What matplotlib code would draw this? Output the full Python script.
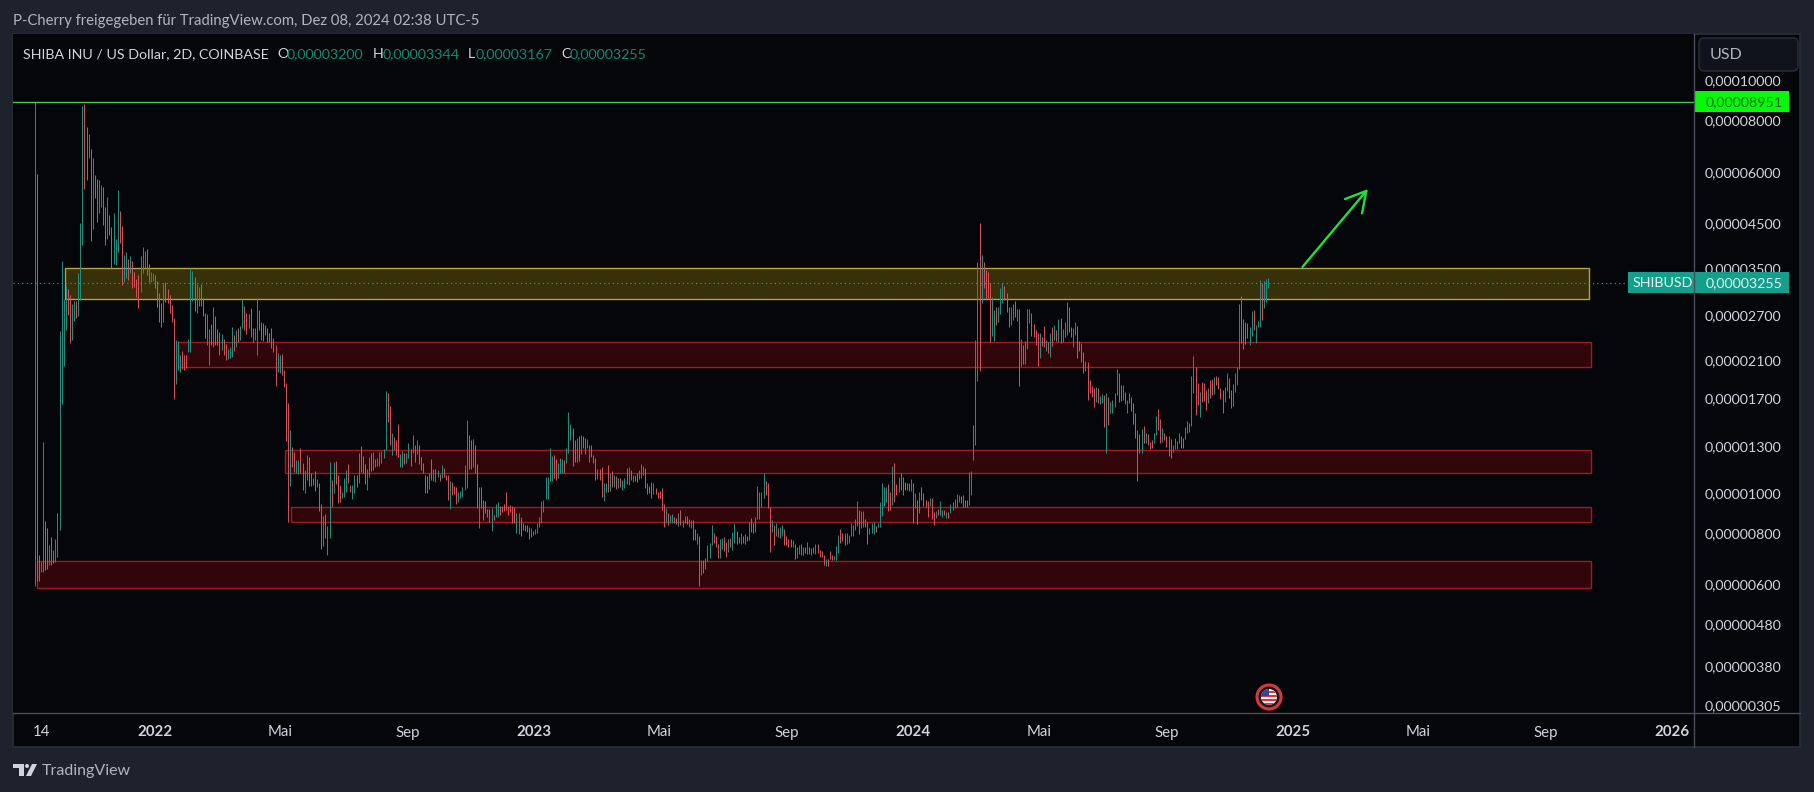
import matplotlib
matplotlib.use("Agg")
import matplotlib.pyplot as plt
import matplotlib.dates as mdates
from matplotlib.patches import Rectangle, FancyBboxPatch, Circle, Polygon
from matplotlib.transforms import ScaledTranslation
import numpy as np
import pandas as pd

plt.rcParams['font.family'] = ['Lato', 'DejaVu Sans']

# 2D bars, prices in units of 0.00000001
high = np.array([
    8951,5977,714,685,1340,861,829,754,788,732,
    779,901,2490,3681,2977,3201,3148,3044,2895,2944,
    2944,3442,4549,8747,8845,7780,7480,6878,6540,5950,
    5818,5785,5622,5560,4975,5260,4760,4450,4810,4160,
    5472,4865,4475,3805,3870,3723,3785,3681,3461,3328,
    3404,3785,3980,3893,3935,3620,3461,3442,3404,3291,
    3078,2912,3255,3273,3148,3044,2879,2679,2368,2355,
    2178,2227,2178,2178,2381,3540,3481,3366,3237,3183,
    3237,2994,2754,2739,2520,2591,2848,2709,2520,2477,
    2449,2381,2316,2252,2278,2548,2435,2504,2534,2562,
    2977,2864,2754,2739,2832,2534,2534,2994,2800,2620,
    2605,2576,2534,2463,2534,2395,2303,2203,2178,2190,
    2003,1863,1666,1433,1303,1267,1211,1211,1296,1191,
    1145,1246,1232,1127,1096,1139,1090,1065,948,886,
    896,838,1198,1083,1198,1205,1114,1053,1013,1096,
    1145,1185,1053,1053,1114,1114,1260,1311,1239,1185,
    1152,1232,1260,1267,1218,1225,1267,1274,1289,1781,
    1762,1638,1409,1378,1355,1482,1253,1274,1260,1260,
    1333,1289,1394,1318,1355,1318,1232,1191,1114,1108,
    1127,1218,1152,1152,1145,1120,1178,1159,1114,1114,
    1077,1071,1048,1042,1013,1019,1042,1178,1515,1394,
    1355,1363,1318,1185,1042,1042,969,964,922,922,
    927,891,948,958,937,937,948,1013,937,942,
    937,932,901,901,881,852,843,843,833,829,
    815,824,852,881,964,969,1102,1102,1296,1239,
    1246,1218,1191,1225,1218,1211,1296,1584,1482,1449,
    1355,1371,1386,1394,1386,1371,1363,1318,1318,1246,
    1225,1152,1152,1165,1065,1065,1178,1127,1139,1114,
    1108,1096,1096,1083,1096,1159,1165,1145,1114,1114,
    1127,1145,1185,1172,1159,1065,1048,1071,1065,1036,
    1013,1019,1036,948,927,901,891,896,881,876,
    901,916,866,886,886,871,866,866,824,806,
    793,693,693,701,754,762,843,806,793,758,
    779,784,788,766,779,784,810,852,815,788,
    806,793,801,793,857,876,852,881,1048,1013,
    1013,1127,1077,1065,932,866,843,852,829,833,
    843,824,793,779,779,775,758,746,754,758,
    746,746,766,746,741,746,758,758,732,729,
    713,697,697,729,713,709,750,797,824,806,
    806,806,797,852,843,871,964,916,911,911,
    871,857,829,852,857,838,852,958,1065,1042,
    1042,1059,1013,1172,1191,1059,1102,1127,1102,1071,
    1065,1065,1090,1065,1007,969,1013,1042,1007,969,
    964,980,980,906,911,922,964,916,916,906,
    906,948,958,974,1002,996,991,996,969,969,
    1133,1139,1474,2368,3661,4549,3805,3661,3500,3461,
    3255,3010,2800,2848,2848,3165,3255,3201,3078,2848,
    2848,2895,2944,2816,2816,2381,2303,2355,2816,2816,
    2754,2591,2504,2463,2463,2408,2562,2368,2342,2463,
    2548,2576,2504,2664,2679,2520,2620,2928,2848,2548,
    2534,2620,2562,2355,2329,2215,2106,2095,1894,1832,
    1812,1822,1812,1732,1752,1742,1762,1723,1675,1694,
    1762,2014,1970,1842,1842,1771,1694,1762,1723,1666,
    1576,1433,1401,1441,1466,1409,1401,1340,1355,1409,
    1549,1611,1524,1449,1409,1386,1386,1363,1318,1371,
    1348,1409,1386,1371,1458,1507,1490,1937,2166,2037,
    1863,1771,1873,1863,1791,1812,1894,1905,1926,1937,
    1926,1812,1791,1822,1970,1915,1791,1852,1970,2037,
    2895,3027,2664,2620,2605,2548,2785,2800,2576,2634,
    3310,3255,3291,3328,3344,
]) * 1e-8

low = np.array([
    600,617,617,648,648,655,659,674,674,681,
    685,705,819,1657,2048,2504,2724,2329,2368,2634,
    2679,2709,2960,4025,5500,5785,6540,4115,4400,5230,
    4575,4810,4975,4500,4025,4160,4255,3540,3620,3600,
    3870,4068,3219,3273,3347,3310,3442,3165,3183,3010,
    2832,3095,3442,3540,3404,3273,3273,3291,3165,2848,
    2620,2548,2620,2928,2912,2754,2620,1703,1852,2003,
    1981,2014,2003,2025,2215,2215,2944,2785,2754,2864,
    2864,2709,2395,2303,2060,2303,2278,2303,2303,2178,
    2239,2178,2118,2130,2142,2154,2227,2278,2342,2368,
    2534,2504,2449,2534,2408,2342,2368,2178,2504,2368,
    2355,2435,2342,2342,2265,2215,1832,1981,1970,1948,
    1822,1348,857,1048,1165,1133,1127,1120,1127,1024,
    1007,1083,1048,1048,1053,1019,1042,911,737,750,
    784,713,784,932,1007,1059,953,958,980,985,
    1013,1065,1013,974,1007,1042,1065,1133,1127,1059,
    1024,1102,1139,1145,1165,1172,1172,1191,1225,1281,
    1498,1318,1246,1281,1246,1232,1165,1165,1185,1191,
    1225,1172,1260,1198,1253,1185,1145,1127,1007,1007,
    1030,1083,1077,1071,1102,1077,1096,1102,1083,969,
    922,996,1002,948,958,980,985,1024,1036,1152,
    1152,1165,1127,927,829,927,866,901,881,857,
    815,866,881,881,891,906,911,916,891,906,
    852,852,806,801,793,819,815,810,779,788,
    797,801,806,833,852,906,974,974,1077,1077,
    1096,1083,1096,1127,1127,1127,1191,1260,1355,1172,
    1198,1198,1205,1253,1296,1253,1296,1198,1232,1191,
    1083,1090,1083,985,964,1013,1013,1019,1042,1042,
    1030,1036,1042,1024,1036,1059,1053,1083,1071,1077,
    1071,1090,1096,1114,1036,1002,1007,980,1002,1002,
    980,980,916,833,852,843,852,852,852,847,
    838,843,833,852,847,833,829,775,775,758,
    600,637,644,659,689,701,754,762,746,701,
    701,737,729,705,725,746,732,762,758,762,
    758,762,758,771,775,810,806,810,871,871,
    932,980,996,927,725,810,754,793,788,784,
    793,754,754,746,746,746,697,701,717,713,
    713,721,717,717,713,721,717,721,705,705,
    674,670,670,697,693,693,693,721,762,771,
    754,758,762,793,793,819,838,801,829,833,
    833,758,801,806,801,810,833,833,886,937,
    958,911,916,942,958,996,1013,1024,996,1024,
    1024,1019,1019,852,927,847,901,969,937,932,
    881,937,871,843,876,891,891,881,891,876,
    876,901,916,927,932,958,953,932,932,932,
    942,996,1211,1318,1884,1992,2912,3165,2994,2994,
    2342,2422,2355,2576,2620,2739,2912,2960,2769,2548,
    2576,2648,2694,2634,1832,2048,2071,2071,2252,2605,
    2422,2408,2303,2048,2142,2290,2278,2227,2203,2154,
    2290,2368,2355,2342,2329,2342,2408,2435,2477,2408,
    2278,2435,2142,2227,2095,1970,1992,1694,1762,1723,
    1629,1675,1666,1657,1666,1458,1260,1474,1576,1576,
    1629,1742,1675,1685,1694,1657,1576,1666,1593,1482,
    1371,1077,1260,1260,1333,1333,1318,1289,1296,1333,
    1394,1433,1333,1340,1355,1303,1239,1225,1267,1289,
    1289,1333,1296,1296,1363,1409,1417,1466,1762,1558,
    1648,1541,1675,1685,1602,1666,1713,1742,1752,1842,
    1802,1703,1576,1675,1781,1713,1620,1638,1771,1842,
    2014,2329,2252,2316,2395,2303,2422,2504,2329,2548,
    2548,2648,2832,2928,3167,
]) * 1e-8

# G = closed up, R = closed down
direction = (
    "GRRGGRRGRR" "GGGGGGRRGG" "RGGGRRGRGR" "RGGRRGRRGG" "GRRGGRGRRR"
    "RGGGRRGGRR" "RRGRRRRRGG" "GRRRGGGRGG" "RRRGGRGRRR" "GRRGGGRGRG"
    "GRRGRRGGRR" "RRRRRRRGGR" "RRRGRRGGRR" "GGRRGRGRRG" "RGGRGRRRGG"
    "GRRGGRGRRR" "GGRGGGGGGG" "RRGRRRGGRG" "GRGRGRRRRR" "GRGGGRGRRR"
    "GRRRGGGGGR" "RGRRGRRRRR" "GRGGRRRRRR" "RRGGRRRRRG" "GGGGGGGGGG"
    "RRGGGRGGGR" "RGRGRRGGRR" "RGRRGGRGRG" "RGRGGRGRGR" "RGGGRRRRGR"
    "RRRRGRGGRR" "GRGRRGGRRG" "RGRGGGGRRR" "GGRRGRGGRR" "GRGRGRRGGG"
    "GGRRRGRGRG" "GRRRRGRGGR" "GRGRGRGRRR" "RGRRRGGGRR" "RGGGGGGRGG"
    "RRGGGRGGGG" "GRRGRRGRRR" "RRGRGRGRRR" "RGRRGRGGRG" "RGGGGGRRRR"
    "GGGGGRGRRR" "RGGRGGGRRR" "GGRGRGRGGG" "RRRRGRRGRG" "RGRGRGGGRR"
    "GGRRRRGRRR" "RGRGGRGRGG" "GGRRGRGRRR" "RRRGRGRRRG" "GRRGRRRRGG"
    "GGRRGGGGGR" "RGRRRGRRGR" "RRRGGRRGGG" "GRRRRGGRGG" "GRGGG"
)

bar_start = "2021-09-07"
last_price = 0.00003255
ath_price = 0.00008951

# zones: start date, end date, upper price, lower price
yellow_zone = ("2021-10-06", "2025-10-13", 3540e-8, 2977e-8)
red_zones = [
    ("2022-01-23", "2025-10-15", 2342e-8, 2037e-8),
    ("2022-05-06", "2025-10-15", 1281e-8, 1127e-8),
    ("2022-05-12", "2025-10-15", 932e-8, 857e-8),
    ("2021-09-09", "2025-10-15", 689e-8, 593e-8),
]
arrow_from = ("2025-01-10", 3560e-8)
arrow_to = ("2025-03-14", 5500e-8)

price_ticks = [0.0001, 0.00008, 0.00006, 0.000045, 0.000035, 0.000027, 0.000021, 0.000017,
               0.000013, 0.00001, 0.000008, 0.000006, 0.0000048, 0.0000038, 0.00000305]
price_labels = ["0,00010000", "0,00008000", "0,00006000", "0,00004500", "0,00003500",
                "0,00002700", "0,00002100", "0,00001700", "0,00001300", "0,00001000",
                "0,00000800", "0,00000600", "0,00000480", "0,00000380", "0,00000305"]
date_ticks = ["2021-09-14", "2022-01-01", "2022-05-01", "2022-09-01", "2023-01-01", "2023-05-01",
              "2023-09-01", "2024-01-01", "2024-05-01", "2024-09-01", "2025-01-01", "2025-05-01",
              "2025-09-01", "2026-01-01"]
date_labels = ["14", "2022", "Mai", "Sep", "2023", "Mai", "Sep", "2024", "Mai", "Sep", "2025",
               "Mai", "Sep", "2026"]
ohlc_labels = [("O", "0,00003200"), ("H", "0,00003344"), ("L", "0,00003167"), ("C", "0,00003255")]


def num(d):
    return mdates.date2num(pd.Timestamp(d))


W, H = 1814, 792
PANE_L, PANE_R, PANE_T, PANE_B = 13, 1694, 34, 713
FRAME = "#1e222d"
PANE = "#05060a"
LINE = "#4a4e59"
TEXT = "#d1d4dc"
UP = "#27917f"
DOWN = "#d9525a"
TEAL = "#0d8a74"

fig = plt.figure(figsize=(W / 100, H / 100), dpi=100, facecolor=FRAME)

# frame and pane drawn in pixel coordinates
bg = fig.add_axes([0, 0, 1, 1], zorder=0)
bg.set_xlim(0, W)
bg.set_ylim(H, 0)
bg.axis("off")
bg.add_patch(Rectangle((PANE_L, PANE_T), 1800 - PANE_L, 747 - PANE_T, fc=PANE, ec="#2a2e39", lw=1.2))
bg.text(13, 21, "P-Cherry freigegeben für TradingView.com, Dez 08, 2024 02:38 UTC-5",
        color="#b2b5be", fontsize=10.75, va="center")
bg.text(42, 771, "TradingView", color="#b2b5be", fontsize=11.5, va="center")
# logo
bg.add_patch(Polygon([(13, 764), (24, 764), (24, 776), (19, 776), (19, 768), (13, 768)], fc=TEXT, ec="none"))
bg.add_patch(Circle((27, 766), 2, fc=TEXT, ec="none"))
bg.add_patch(Polygon([(32, 764), (37, 764), (31, 776), (26, 776)], fc=TEXT, ec="none"))

# price pane
ax = fig.add_axes([PANE_L / W, 1 - PANE_B / H, (PANE_R - PANE_L) / W, (PANE_B - PANE_T) / H], zorder=1)
ax.set_facecolor(PANE)
ax.set_yscale("log")
ax.set_ylim(294.6e-8, 13076e-8)
ax.set_xlim(num("2022-01-01") - 136.8, num("2022-01-01") + 1482)
for s in ax.spines.values():
    s.set_visible(False)

# zones
y1, y2 = yellow_zone[2], yellow_zone[3]
ax.add_patch(Rectangle((num(yellow_zone[0]), y2), num(yellow_zone[1]) - num(yellow_zone[0]), y1 - y2,
                       fc="#373009", ec="#b0a63c", lw=1.0, zorder=1))
for start, end, top, bottom in red_zones:
    ax.add_patch(Rectangle((num(start), bottom), num(end) - num(start), top - bottom,
                           fc="#31060a", ec="#9c1c20", lw=1.0, zorder=1))

# bars
dates = pd.date_range(bar_start, periods=len(high), freq="2D")
colors = [UP if c == "G" else DOWN for c in direction]
ax.vlines(mdates.date2num(dates), low, high, colors=colors, lw=0.7, zorder=3)

# level lines
ax.axhline(ath_price, color="#4fc74a", lw=1.0, zorder=4)
ax.hlines(last_price, ax.get_xlim()[0], ax.get_xlim()[1], color="#1f9c7f", lw=0.9,
          linestyles=(0, (1, 2.5)), zorder=2)

# arrow
ax.annotate("", xy=(num(arrow_to[0]), arrow_to[1]), xytext=(num(arrow_from[0]), arrow_from[1]),
            arrowprops=dict(arrowstyle="->,head_length=0.9,head_width=0.5", color="#21e03a", lw=1.7,
                            shrinkA=0, shrinkB=0, mutation_scale=16), zorder=5)

ax.set_yticks(price_ticks, price_labels)
ax.minorticks_off()
ax.yaxis.tick_right()
ax.tick_params(axis="y", length=0, pad=8, labelsize=10.3, labelcolor=TEXT)
ax.set_xticks([num(d) for d in date_ticks], date_labels)
ax.tick_params(axis="x", length=0, pad=9, labelsize=10.8, labelcolor=TEXT)
for lab, txt in zip(ax.get_xticklabels(), date_labels):
    if len(txt) == 4:
        lab.set_fontweight("bold")
# price labels sit a little above their level
lift = ScaledTranslation(0, 1.5 / 100, fig.dpi_scale_trans)
for lab in ax.get_yticklabels():
    lab.set_transform(lab.get_transform() + lift)

fig.canvas.draw()


def price_y(p):
    # pixel row of a price
    return H - ax.transData.transform((ax.get_xlim()[0], p))[1]


# badges, legend and pane dividers on top
top = fig.add_axes([0, 0, 1, 1], zorder=2)
top.set_xlim(0, W)
top.set_ylim(H, 0)
top.axis("off")
top.patch.set_alpha(0)
top.plot([PANE_L, 1800], [PANE_B, PANE_B], color=LINE, lw=1.0)
top.plot([PANE_R, PANE_R], [PANE_T, 747], color=LINE, lw=1.0)

top.add_patch(FancyBboxPatch((1702, 41), 93, 27, boxstyle="round,pad=3,rounding_size=5",
                             fc="#10131b", ec="#2c303b", lw=1.0))
top.text(1710, 55, "USD", color="#b2b5be", fontsize=11.5, va="center")

yb = price_y(ath_price)
top.add_patch(Rectangle((PANE_R, yb - 10.5), 95, 21, fc="#06f906", ec="none"))
top.text(1706, yb, "0,00008951", color="#0a6f12", fontsize=10.3, va="center")

yb = price_y(last_price)
top.add_patch(Rectangle((1628, yb - 10.5), 161, 21, fc="#12a08c", ec="none"))
top.text(1633, yb, "SHIBUSD", color="#eaf6f3", fontsize=10.3, va="center")
top.text(1706, yb, "0,00003255", color="#e4f3ef", fontsize=10.3, va="center")

# legend line
top.text(23, 54, "SHIBA INU / US Dollar, 2D, COINBASE", color=TEXT, fontsize=10.25, va="center")
for (letter, value), lx, vx in zip(ohlc_labels, [277, 373, 468, 561], [287, 383, 476, 570]):
    top.text(lx, 54, letter, color=TEXT, fontsize=10.25, va="center")
    top.text(vx, 54, value, color=TEAL, fontsize=10.25, va="center")

# event flag
top.add_patch(Circle((1269, 697), 12, fc="#15181f", ec="#d8383c", lw=2.2))
disc = Circle((1269, 697), 8, fc="#f2f2f2", ec="none")
top.add_patch(disc)
for sy in [691, 695, 699, 703]:
    st = top.add_patch(Rectangle((1260, sy), 18, 2, fc="#d8383c", ec="none"))
    st.set_clip_path(disc)
canton = top.add_patch(Rectangle((1260, 689), 9, 7, fc="#2a4a9c", ec="none"))
canton.set_clip_path(disc)

fig.savefig("out.png", dpi=100, facecolor=FRAME)
